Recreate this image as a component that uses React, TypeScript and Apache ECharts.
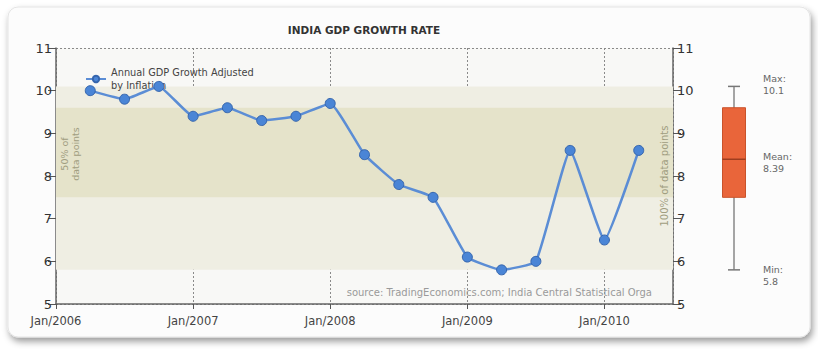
import React, { useEffect, useRef } from "react";
import * as echarts from "echarts";

const titleText = "INDIA GDP GROWTH RATE";
const seriesName = "Annual GDP Growth Adjusted\nby Inflation";
const sourceText = "source: TradingEconomics.com; India Central Statistical Orga";
const periods = [
  "2006-04", "2006-07", "2006-10", "2007-01", "2007-04", "2007-07", "2007-10",
  "2008-01", "2008-04", "2008-07", "2008-10", "2009-01", "2009-04", "2009-07",
  "2009-10", "2010-01", "2010-04",
];
const growth = [10.0, 9.8, 10.1, 9.4, 9.6, 9.3, 9.4, 9.7, 8.5, 7.8, 7.5, 6.1, 5.8, 6.0, 8.6, 6.5, 8.6];
const startYear = 2006;
const axisMonthsMax = 54; // Jan/2006 .. Jul/2010
const yMin = 5;
const yMax = 11;

function monthIndex(p: string) {
  const [y, m] = p.split("-").map(Number);
  return (y - startYear) * 12 + (m - 1);
}

export default function App() {
  const ref = useRef<HTMLDivElement>(null);
  useEffect(() => {
    if (!ref.current) return;
    const chart = echarts.init(ref.current, undefined, { renderer: "svg" });
    const sorted = [...growth].sort((a, b) => a - b);
    const n = sorted.length;
    const minV = sorted[0];
    const maxV = sorted[n - 1];
    const q1 = sorted[Math.round(0.25 * (n - 1))];
    const q3 = sorted[Math.round(0.75 * (n - 1))];
    const mean = growth.reduce((a, b) => a + b, 0) / n;
    const font = "DejaVu Sans, Verdana, sans-serif";

    const lineData = periods.map((p, i) => [monthIndex(p), growth[i]]);

    const option: any = {
      animation: false,
      textStyle: { fontFamily: font },
      graphic: [
        {
          type: "rect",
          z: -10,
          shape: { x: 8, y: 7, width: 802, height: 330, r: 10 },
          style: {
            fill: "#fcfcfc",
            stroke: "#e4e4e4",
            lineWidth: 1,
            shadowBlur: 7,
            shadowOffsetX: 2,
            shadowOffsetY: 4,
            shadowColor: "rgba(0,0,0,0.4)",
          },
        },
        {
          type: "text",
          x: 364,
          y: 30,
          style: { text: titleText, fontSize: 10.5, fontWeight: "bold", fill: "#333", fontFamily: font, align: "center", verticalAlign: "middle" },
        },
        {
          type: "text",
          z: 10,
          x: 70,
          y: 154,
          rotation: Math.PI / 2,
          style: {
            text: "50% of\ndata points",
            fontSize: 9.5,
            fill: "#a09d80",
            align: "center",
            verticalAlign: "middle",
            lineHeight: 11,
            fontFamily: font,
          },
        },
        {
          type: "text",
          z: 10,
          x: 664,
          y: 176,
          rotation: Math.PI / 2,
          style: {
            text: "100% of data points",
            fontSize: 10,
            fill: "#a09d80",
            align: "center",
            verticalAlign: "middle",
            fontFamily: font,
          },
        },
        {
          type: "text",
          z: 10,
          x: 652,
          y: 292,
          style: {
            text: sourceText,
            fontSize: 10,
            fill: "#9a9a9a",
            align: "right",
            verticalAlign: "middle",
            fontFamily: font,
          },
        },
      ],
      legend: {
        left: 80,
        top: 61,
        itemWidth: 20,
        itemHeight: 8,
        itemGap: 4,
        data: [seriesName],
        textStyle: { fontSize: 9.8, color: "#444", lineHeight: 13, fontFamily: font },
      },
      grid: [
        {
          left: 56,
          right: 145,
          top: 48,
          bottom: 45,
          show: true,
          backgroundColor: "#f8f8f6",
          borderWidth: 0,
        },
        { left: 710, width: 48, top: 48, bottom: 45 },
      ],
      xAxis: [
        {
          type: "value",
          gridIndex: 0,
          min: 0,
          max: axisMonthsMax,
          interval: 12,
          axisLine: { show: true, lineStyle: { color: "#666", width: 1.5 } },
          axisTick: { show: true, length: 5, lineStyle: { color: "#555" } },
          axisLabel: {
            fontSize: 11.5,
            color: "#444",
            margin: 11,
            fontFamily: font,
            showMaxLabel: false,
            formatter: (v: number) => "Jan/" + (startYear + Math.round(v / 12)),
          },
          splitLine: { show: true, lineStyle: { color: "#8a8a8a", type: [2, 2], width: 1 } },
        },
        { type: "category", gridIndex: 1, data: ["box"], show: false },
      ],
      yAxis: [
        {
          type: "value",
          gridIndex: 0,
          min: yMin,
          max: yMax,
          interval: 1,
          axisLine: { show: true, lineStyle: { color: "#666", width: 1.5 } },
          axisTick: { show: true, length: 8, lineStyle: { color: "#555" } },
          axisLabel: { fontSize: 13, color: "#333", margin: 4, fontFamily: font },
          splitLine: { show: true, lineStyle: { color: "#8a8a8a", type: [2, 2], width: 1 } },
        },
        {
          type: "value",
          gridIndex: 0,
          position: "right",
          min: yMin,
          max: yMax,
          interval: 1,
          axisLine: { show: true, onZero: false, lineStyle: { color: "#666", width: 1.5 } },
          axisTick: { show: true, length: 8, lineStyle: { color: "#555" } },
          axisLabel: { fontSize: 13, color: "#333", margin: 4, fontFamily: font },
          splitLine: { show: false },
        },
        { type: "value", gridIndex: 1, min: yMin, max: yMax, show: false },
      ],
      series: [
        {
          name: seriesName,
          type: "line",
          xAxisIndex: 0,
          yAxisIndex: 0,
          data: lineData,
          smooth: 0.12,
          symbol: "circle",
          symbolSize: 10,
          lineStyle: { color: "#5b8dd5", width: 2.5 },
          itemStyle: { color: "#4a85d6", borderColor: "#3565ad", borderWidth: 1 },
          z: 5,
          markArea: {
            silent: true,
            z: 1,
            data: [
              [{ yAxis: minV, itemStyle: { color: "#efeee3" } }, { yAxis: maxV }],
              [{ yAxis: q1, itemStyle: { color: "#e5e3ca" } }, { yAxis: q3 }],
            ],
          },
        },
        {
          type: "custom",
          xAxisIndex: 1,
          yAxisIndex: 2,
          data: [[0, minV, q1, mean, q3, maxV]],
          renderItem: (params: any, api: any) => {
            const cx = api.coord([api.value(0), minV])[0];
            const yMinP = api.coord([0, api.value(1)])[1];
            const yQ1 = api.coord([0, api.value(2)])[1];
            const yMean = api.coord([0, api.value(3)])[1];
            const yQ3 = api.coord([0, api.value(4)])[1];
            const yMaxP = api.coord([0, api.value(5)])[1];
            const bw = 23;
            const cw = 12;
            const lx = cx + 29;
            const lbl = (t: string, y: number) => ({
              type: "text",
              x: lx,
              y,
              style: { text: t, fontSize: 9.5, fill: "#666", lineHeight: 12, fontFamily: font, verticalAlign: "top" },
            });
            return {
              type: "group",
              children: [
                { type: "line", shape: { x1: cx, y1: yMaxP, x2: cx, y2: yMinP }, style: { stroke: "#888", lineWidth: 1.5 } },
                { type: "line", shape: { x1: cx - cw / 2, y1: yMaxP, x2: cx + cw / 2, y2: yMaxP }, style: { stroke: "#777", lineWidth: 1.5 } },
                { type: "line", shape: { x1: cx - cw / 2, y1: yMinP, x2: cx + cw / 2, y2: yMinP }, style: { stroke: "#777", lineWidth: 1.5 } },
                {
                  type: "rect",
                  shape: { x: cx - bw / 2, y: yQ3, width: bw, height: yQ1 - yQ3 },
                  style: { fill: "#e9653a", stroke: "#c9532b", lineWidth: 1 },
                },
                { type: "line", shape: { x1: cx - bw / 2, y1: yMean, x2: cx + bw / 2, y2: yMean }, style: { stroke: "#7a2a12", lineWidth: 1 } },
                lbl("Max:\n" + maxV.toFixed(1), yMaxP - 14),
                lbl("Mean:\n" + mean.toFixed(2), yMean - 9),
                lbl("Min:\n" + minV.toFixed(1), yMinP - 6),
              ],
            };
          },
        },
      ],
    };
    chart.setOption(option);
    return () => chart.dispose();
  }, []);
  return (
    <div style={{ position: "fixed", left: 0, top: 0, width: 818, height: 349, background: "#fff" }}>
      <div ref={ref} style={{ width: 818, height: 349 }} />
    </div>
  );
}
